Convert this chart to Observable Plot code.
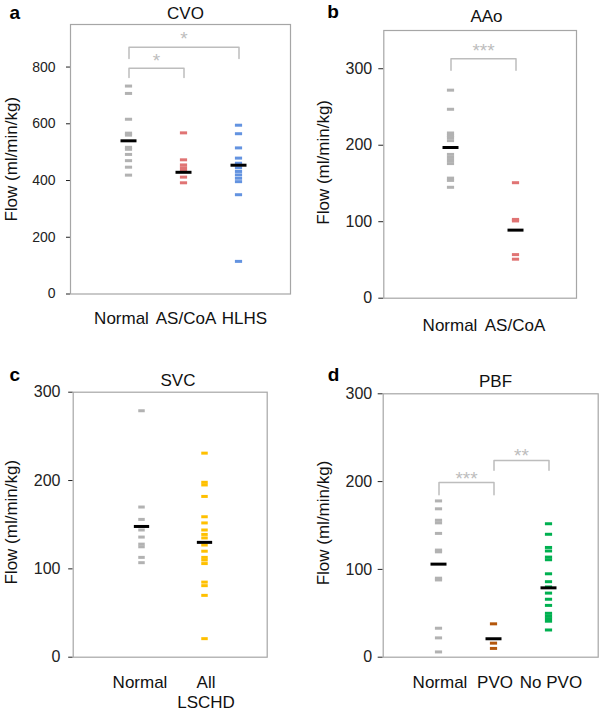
<!DOCTYPE html>
<html>
<head>
<meta charset="utf-8">
<script src="https://cdn.jsdelivr.net/npm/d3@7"></script>
<script src="https://cdn.jsdelivr.net/npm/@observablehq/plot@0.6"></script>
<style>
html, body { margin: 0; padding: 0; background: #fff; }
#root { position: relative; width: 600px; height: 711px; overflow: hidden; font-family: "Liberation Sans", Arial, sans-serif; }
.panel { position: absolute; }
</style>
</head>
<body>
<div id="root"></div>
<script>
// ---------- DATA ----------
// a: CVO
const cvoGroups = ["Normal", "AS/CoA", "HLHS"];
const cvoNormal = [733, 707, 616, 567, 560, 517, 510, 492, 470, 447, 419];
const cvoASCoA = [568, 473, 455, 445, 436, 412, 392];
const cvoHLHS = [595, 565, 515, 479, 461, 445, 432, 420, 408, 396, 350, 115];
const cvoCentres = [540, 429, 454];
const cvoTicks = [0, 200, 400, 600, 800];
const cvoBrackets = [
  {from: "Normal", to: "HLHS", top: 870, drop: 830, stars: "*", starY: 915},
  {from: "Normal", to: "AS/CoA", top: 796, drop: 763, stars: "*", starY: 838}
];

// b: AAo
const aaoGroups = ["Normal", "AS/CoA"];
const aaoNormal = [272, 247, 216, 213, 210, 206, 188, 184, 180, 176, 157, 154, 145];
const aaoASCoA = [151, 103, 101, 57, 51];
const aaoCentres = [197, 89];
const aaoTicks = [0, 100, 200, 300];
const aaoBrackets = [
  {from: "Normal", to: "AS/CoA", top: 313, drop: 298, stars: "***", starY: 330}
];

// c: SVC
const svcGroups = ["Normal", "All\nLSCHD"];
const svcNormal = [279, 170, 156, 144, 136, 128, 125, 113, 107];
const svcLSCHD = [231, 198, 195, 182, 159, 152, 144, 139, 135, 127, 120, 113, 110, 106, 85, 81, 70, 21];
const svcCentres = [148, 130];
const svcTicks = [0, 100, 200, 300];
const svcBrackets = [];

// d: PBF
const pbfGroups = ["Normal", "PVO", "No PVO"];
const pbfNormal = [178, 169, 156, 153, 141, 122, 120, 90, 88, 33, 22, 6];
const pbfPVO = [38, 16, 10];
const pbfNoPVO = [152, 140, 125, 121, 114, 111, 95, 86, 80, 73, 66, 59, 50, 47, 44, 41, 31];
const pbfCentres = [106, 21, 79];
const pbfTicks = [0, 100, 200, 300];
const pbfBrackets = [
  {from: "Normal", to: "PVO", top: 199, drop: 185, stars: "***", starY: 208},
  {from: "PVO", to: "No PVO", top: 224, drop: 213, stars: "**", starY: 235}
];

const yTitle = "Flow (ml/min/kg)";

// ---------- STYLE / LAYOUT ----------
const GRAY = "#b2b2b2", RED = "#e07474", BLUE = "#6393e0", GOLD = "#ffc000", BROWN = "#b4570c", GREEN = "#00b050";

const panels = [
  {letter: "a", title: "CVO", groups: cvoGroups, series: [cvoNormal, cvoASCoA, cvoHLHS], colors: [GRAY, RED, BLUE],
   centres: cvoCentres, yDomain: [0, 950], yTicks: cvoTicks, brackets: cvoBrackets,
   box: {left: 0, top: 0, width: 300, height: 330, marginLeft: 70, marginRight: 10, marginTop: 24, marginBottom: 36.5},
   xCentres: [128, 238], tickFont: 14, tickSize: 4, tickPadding: 11,
   labelDx: [-7.5, 2, 5.5], labelDy: 16, ylabDx: -59, ylabDy: 0, titleDx: 5, titleDy: -6, letterDx: -61, letterDy: -6},
  {letter: "b", title: "AAo", groups: aaoGroups, series: [aaoNormal, aaoASCoA], colors: [GRAY, RED],
   centres: aaoCentres, yDomain: [0, 350], yTicks: aaoTicks, brackets: aaoBrackets,
   box: {left: 300, top: 0, width: 300, height: 330, marginLeft: 83.3, marginRight: 24, marginTop: 30, marginBottom: 32.3},
   xCentres: [150, 215], tickFont: 16, tickSize: 5, tickPadding: 6.6,
   labelDx: [-1, -1], labelDy: 17.9, ylabDx: -60, ylabDy: -2, titleDx: 6.3, titleDy: -9, letterDx: -56.5, letterDy: -13},
  {letter: "c", title: "SVC", groups: svcGroups, series: [svcNormal, svcLSCHD], colors: [GRAY, GOLD],
   centres: svcCentres, yDomain: [0, 300], yTicks: svcTicks, brackets: svcBrackets,
   box: {left: 0, top: 330, width: 300, height: 381, marginLeft: 72.7, marginRight: 33.3, marginTop: 61.7, marginBottom: 54.3},
   xCentres: [141, 204.7], tickFont: 16, tickSize: 4.5, tickPadding: 8.2,
   labelDx: [-2, 1], labelDy: 16, ylabDx: -61.7, ylabDy: -2.5, titleDx: 7.8, titleDy: -6.7, letterDx: -63.7, letterDy: -11.7},
  {letter: "d", title: "PBF", groups: pbfGroups, series: [pbfNormal, pbfPVO, pbfNoPVO], colors: [GRAY, BROWN, GREEN],
   centres: pbfCentres, yDomain: [0, 300], yTicks: pbfTicks, brackets: pbfBrackets,
   box: {left: 300, top: 330, width: 300, height: 381, marginLeft: 82.7, marginRight: 2.3, marginTop: 63.3, marginBottom: 54.3},
   xCentres: [138, 248], tickFont: 16, tickSize: 5, tickPadding: 6,
   labelDx: [1, 1, 2], labelDy: 15.9, ylabDx: -59.2, ylabDy: -2.5, titleDx: 4.8, titleDy: -7.3, letterDx: -55.5, letterDy: -13.3}
];

const FONT = '"Liberation Sans", Arial, Helvetica, sans-serif';
const DASH = 7.2, CENTRE = 16;

function drawPanel(p) {
  const n = p.groups.length;
  const step = (p.xCentres[1] - p.xCentres[0]) / (n - 1);
  const xRange = [p.xCentres[0] - step / 2, p.xCentres[1] + step / 2];
  const marks = [Plot.frame({stroke: "#a6a6a6", strokeWidth: 1.2})];

  // individual observations (short horizontal dashes)
  p.groups.forEach((g, i) => {
    marks.push(Plot.tickY(p.series[i], {
      x: () => g, y: d => d, stroke: p.colors[i], strokeWidth: 3,
      insetLeft: (step - DASH) / 2, insetRight: (step - DASH) / 2
    }));
  });
  // group centre lines
  marks.push(Plot.tickY(p.groups.map((g, i) => ({g, v: p.centres[i]})), {
    x: "g", y: "v", stroke: "#000", strokeWidth: 3,
    insetLeft: (step - CENTRE) / 2, insetRight: (step - CENTRE) / 2
  }));

  // significance brackets
  p.brackets.forEach(b => {
    marks.push(Plot.line([
      {x: b.from, y: b.drop}, {x: b.from, y: b.top}, {x: b.to, y: b.top}, {x: b.to, y: b.drop}
    ], {x: "x", y: "y", stroke: "#bdbdbd", strokeWidth: 1.5}));
    const span = p.groups.indexOf(b.to) - p.groups.indexOf(b.from);
    marks.push(Plot.text([b], {
      x: d => d.from, y: d => d.starY, text: d => d.stars,
      dx: step * span / 2, dy: 4.75, fill: "#bdbdbd", fontSize: 19, lineAnchor: "middle", textAnchor: "middle"
    }));
  });

  // category labels
  p.groups.forEach((g, i) => {
    marks.push(Plot.text([g], {
      x: d => d, text: d => d, frameAnchor: "bottom", lineAnchor: "top", textAnchor: "middle",
      dx: p.labelDx[i], dy: p.labelDy, fontSize: 17, fill: "#111", lineHeight: 1.2
    }));
  });

  // y title
  marks.push(Plot.text([yTitle], {
    text: d => d, frameAnchor: "left", rotate: -90, textAnchor: "middle", lineAnchor: "middle",
    dx: p.ylabDx, dy: p.ylabDy, fontSize: 17, fill: "#111"
  }));
  // panel title
  marks.push(Plot.text([p.title], {
    text: d => d, frameAnchor: "top", textAnchor: "middle", lineAnchor: "bottom",
    dx: p.titleDx, dy: p.titleDy, fontSize: 17, fill: "#111"
  }));
  // panel letter
  marks.push(Plot.text([p.letter], {
    text: d => d, frameAnchor: "top-left", textAnchor: "start", lineAnchor: "bottom",
    dx: p.letterDx, dy: p.letterDy, fontSize: 19, fontWeight: "bold", fill: "#000"
  }));

  const svg = Plot.plot({
    width: p.box.width, height: p.box.height,
    marginLeft: p.box.marginLeft, marginRight: p.box.marginRight,
    marginTop: p.box.marginTop, marginBottom: p.box.marginBottom,
    style: {fontFamily: FONT, fontSize: p.tickFont + "px", color: "#222", background: "transparent", overflow: "visible"},
    x: {type: "band", domain: p.groups, range: xRange, padding: 0, axis: null},
    y: {domain: p.yDomain, ticks: p.yTicks, tickSize: p.tickSize, tickPadding: p.tickPadding, label: null, grid: false},
    marks
  });
  const wrap = document.createElement("div");
  wrap.className = "panel";
  wrap.style.left = p.box.left + "px";
  wrap.style.top = p.box.top + "px";
  wrap.appendChild(svg);
  document.getElementById("root").appendChild(wrap);
}

panels.forEach(drawPanel);
</script>
</body>
</html>
